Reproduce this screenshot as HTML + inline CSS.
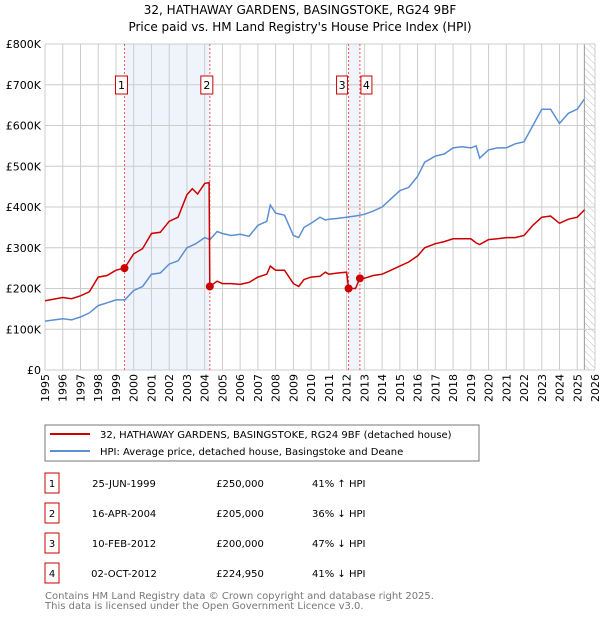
<!DOCTYPE html>
<html><head><meta charset="utf-8"><style>
body{margin:0;background:#fff;font-family:"DejaVu Sans","Liberation Sans",sans-serif;}
svg text{font-family:"DejaVu Sans","Liberation Sans",sans-serif;}
</style></head><body>
<svg id="c" width="600" height="620" xmlns="http://www.w3.org/2000/svg">
<defs><pattern id="hatch" width="5" height="5" patternUnits="userSpaceOnUse" patternTransform="rotate(-45)"><line x1="0" y1="0" x2="0" y2="5" stroke="#bbb" stroke-width="1"/></pattern></defs>
<text x="300" y="14" text-anchor="middle" font-size="12">32, HATHAWAY GARDENS, BASINGSTOKE, RG24 9BF</text>
<text x="300" y="31" text-anchor="middle" font-size="12">Price paid vs. HM Land Registry's House Price Index (HPI)</text>
<g id="plot"></g>
<rect x="45" y="425" width="434" height="36" fill="#fff" stroke="#777"/>
<line x1="50" y1="434" x2="90" y2="434" stroke="#cc0000" stroke-width="2"/>
<text x="100" y="438" font-size="10">32, HATHAWAY GARDENS, BASINGSTOKE, RG24 9BF (detached house)</text>
<line x1="50" y1="451" x2="90" y2="451" stroke="#5b8fd4" stroke-width="2"/>
<text x="100" y="455" font-size="10">HPI: Average price, detached house, Basingstoke and Deane</text>
<g id="table"></g>
<text x="45" y="599" font-size="10" fill="#777">Contains HM Land Registry data © Crown copyright and database right 2025.</text>
<text x="45" y="609" font-size="10" fill="#777">This data is licensed under the Open Government Licence v3.0.</text>
</svg>
<script>
const yTicks=[0,100,200,300,400,500,600,700,800];
const yTickLabels=["£0","£100K","£200K","£300K","£400K","£500K","£600K","£700K","£800K"];
const years=[1995,1996,1997,1998,1999,2000,2001,2002,2003,2004,2005,2006,2007,2008,2009,2010,2011,2012,2013,2014,2015,2016,2017,2018,2019,2020,2021,2022,2023,2024,2025,2026];
const hpiT=[1995,1996,1996.5,1997,1997.5,1998,1998.5,1999,1999.5,2000,2000.5,2001,2001.5,2002,2002.5,2003,2003.5,2004,2004.3,2004.7,2005,2005.5,2006,2006.5,2007,2007.5,2007.7,2008,2008.5,2009,2009.3,2009.6,2010,2010.5,2010.8,2011,2011.5,2012,2012.5,2013,2013.5,2014,2014.5,2015,2015.5,2016,2016.4,2017,2017.5,2018,2018.5,2019,2019.3,2019.5,2020,2020.5,2021,2021.5,2022,2022.5,2023,2023.5,2024,2024.5,2025,2025.4];
const hpiV=[120,126,123,130,140,158,165,172,172,195,205,235,238,260,268,300,310,325,320,340,335,330,333,328,355,365,405,385,380,330,325,350,360,375,368,370,372,375,378,382,390,400,420,440,448,475,510,525,530,545,548,545,550,520,540,545,545,555,560,600,640,640,605,630,640,665];
const prT=[1995,1996,1996.5,1997,1997.5,1998,1998.5,1999,1999.48,2000,2000.5,2001,2001.5,2002,2002.5,2003,2003.3,2003.6,2004,2004.25,2004.29,2004.7,2005,2005.5,2006,2006.5,2007,2007.5,2007.7,2008,2008.5,2009,2009.3,2009.6,2010,2010.5,2010.8,2011,2011.5,2012,2012.11,2012.5,2012.75,2013,2013.5,2014,2014.5,2015,2015.5,2016,2016.4,2017,2017.5,2018,2018.5,2019,2019.3,2019.5,2020,2020.5,2021,2021.5,2022,2022.5,2023,2023.5,2024,2024.5,2025,2025.4];
const prV=[170,178,175,182,192,228,232,245,250,285,298,335,338,365,375,430,445,432,458,460,205,218,212,212,210,215,228,235,255,245,245,212,205,222,228,230,240,235,238,240,200,200,225,225,232,235,245,255,265,280,300,310,315,322,322,322,312,308,320,322,325,325,330,355,375,378,360,370,375,393];
const saleT=[1999.48,2004.29,2012.11,2012.75];
const saleV=[250,205,200,224.95];
const saleLabels=["1","2","3","4"];
const saleDates=["25-JUN-1999","16-APR-2004","10-FEB-2012","02-OCT-2012"];
const salePrices=["£250,000","£205,000","£200,000","£224,950"];
const saleHpi=["41% ↑ HPI","36% ↓ HPI","47% ↓ HPI","41% ↓ HPI"];
const NS="http://www.w3.org/2000/svg";
const X0=45,X1=595,Y0=370,Y1=44;
const xs=t=>X0+(t-1995)/(2026-1995)*(X1-X0);
const ys=v=>Y0-v/800*(Y0-Y1);
const plot=document.getElementById('plot');
function mk(tag,attrs,parent){const e=document.createElementNS(NS,tag);for(const k in attrs)e.setAttribute(k,attrs[k]);(parent||plot).appendChild(e);return e;}
for(const [a,b] of [[0,1],[2,3]]){
 const r=mk('rect',{x:xs(saleT[a]),y:Y1,width:xs(saleT[b])-xs(saleT[a]),height:Y0-Y1,fill:'#eef3fc'});
 
 
}
const h=mk('rect',{x:xs(2025.4),y:Y1,width:X1-xs(2025.4),height:Y0-Y1,fill:'url(#hatch)'});


mk('line',{x1:xs(2025.4),y1:Y1,x2:xs(2025.4),y2:Y0,stroke:'#999','stroke-width':1});
yTicks.forEach((v,i)=>{
 const l=mk('line',{x1:X0,y1:ys(v),x2:X1,y2:ys(v),stroke:'#ccc','stroke-width':1});
 
 
 const t=mk('text',{x:X0-4,y:ys(v)+4,'text-anchor':'end','font-size':11});
 t.textContent=yTickLabels[i];
 
 
});
years.forEach(y=>{
 const l=mk('line',{x1:xs(y),y1:Y1,x2:xs(y),y2:Y0,stroke:'#ccc','stroke-width':1});
 
 
 const t=mk('text',{x:0,y:0,'font-size':11,'text-anchor':'end',transform:`translate(${xs(y)+4},${Y0+4}) rotate(-90)`});
 t.textContent=y;
 
 
});
saleT.forEach((t,i)=>{
 const l=mk('line',{x1:xs(t),y1:Y1,x2:xs(t),y2:Y0,stroke:'#e55','stroke-width':1,'stroke-dasharray':'2,2'});
 
 
 const bx=i===2?xs(t)-12:(i===3?xs(t)+1:xs(t)-9);
 const r=mk('rect',{x:bx,y:76,width:i>=2?11:12,height:18,fill:'#fff',stroke:'#cc0000'});
 
 
 const tx=mk('text',{x:bx+(i>=2?5.5:6),y:89,'text-anchor':'middle','font-size':11});
 tx.textContent=saleLabels[i];
 
 
});
function path(T,V,col,name){
 const d=T.map((t,i)=>(i?'L':'M')+xs(t).toFixed(1)+','+ys(V[i]).toFixed(1)).join('');
 const p=mk('path',{d:d,fill:'none',stroke:col,'stroke-width':1.5});
 
 
}
path(hpiT,hpiV,'#5b8fd4','hpi-line');
path(prT,prV,'#cc0000','property-line');
saleT.forEach((t,i)=>{
 const c=mk('circle',{cx:xs(t),cy:ys(saleV[i]),r:4,fill:'#cc0000'});
 
 
});
const tb=document.getElementById('table');
saleT.forEach((t,i)=>{
 const y=483+i*30;
 const r=mk('rect',{x:45,y:y-10,width:14,height:20,fill:'#fff',stroke:'#cc0000'},tb);
 
 
 const vals=[[52,saleLabels[i],'middle'],[124,saleDates[i],'middle'],[240,salePrices[i],'middle'],[312,saleHpi[i],'start']];
 vals.forEach(([x,s,a])=>{
  const e=mk('text',{x:x,y:y+4,'font-size':10,'text-anchor':a},tb);
  e.textContent=s;
  
  
 });
});
</script>
</body></html>
